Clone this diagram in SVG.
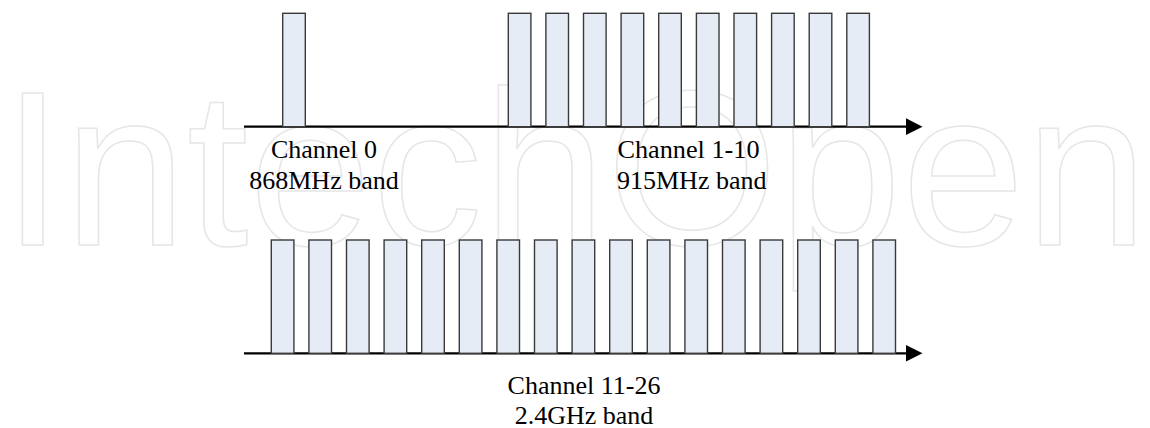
<svg xmlns="http://www.w3.org/2000/svg" width="1150" height="428" viewBox="0 0 1150 428">
  <style>
    .wm { font-family: "Liberation Sans", Arial, sans-serif; font-size: 221px; fill: none; stroke: #e6e6e6; stroke-width: 1.5; }
    .bar { fill: #e6ecf6; stroke: #3a3a3a; stroke-width: 1.4; }
    .axis { fill: none; stroke: #000; stroke-width: 2.2; }
    .head { fill: #000; stroke: none; }
    .lbl { font-family: "Liberation Serif", "Times New Roman", serif; font-size: 26px; fill: #000; }
  </style>
  <defs>
    <rect id="b1" class="bar" x="0" y="13.3" width="22.6" height="113.4"/>
    <rect id="b2" class="bar" x="0" y="240" width="22.6" height="113.3"/>
  </defs>
  <rect width="1150" height="428" fill="#fff"/>

  <g id="watermark">
    <text class="wm" x="2" y="245" textLength="1146" lengthAdjust="spacing">IntechOpen</text>
  </g>

  <g id="connectors">
    <line class="axis" x1="244" y1="126.7" x2="910" y2="126.7"/>
    <polygon class="head" points="906,118.3 922.5,126.7 906,135"/>
    <line class="axis" x1="244" y1="353.3" x2="910" y2="353.3"/>
    <polygon class="head" points="906,345 922.5,353.3 906,361.6"/>
  </g>

  <g id="band-868">
    <use href="#b1" x="282.7"/>
    <text class="lbl" x="324" y="158" text-anchor="middle">Channel 0</text>
    <text class="lbl" x="324" y="189" text-anchor="middle">868MHz band</text>
  </g>

  <g id="band-915">
    <use href="#b1" x="508.3"/>
    <use href="#b1" x="545.9"/>
    <use href="#b1" x="583.5"/>
    <use href="#b1" x="621.1"/>
    <use href="#b1" x="658.7"/>
    <use href="#b1" x="696.4"/>
    <use href="#b1" x="734.0"/>
    <use href="#b1" x="771.6"/>
    <use href="#b1" x="809.2"/>
    <use href="#b1" x="846.8"/>
    <text class="lbl" x="617.5" y="158" textLength="142" lengthAdjust="spacingAndGlyphs">Channel 1-10</text>
    <text class="lbl" x="617" y="189">915MHz band</text>
  </g>

  <g id="band-2400">
    <use href="#b2" x="271.3"/>
    <use href="#b2" x="308.9"/>
    <use href="#b2" x="346.5"/>
    <use href="#b2" x="384.1"/>
    <use href="#b2" x="421.7"/>
    <use href="#b2" x="459.3"/>
    <use href="#b2" x="496.9"/>
    <use href="#b2" x="534.5"/>
    <use href="#b2" x="572.1"/>
    <use href="#b2" x="609.7"/>
    <use href="#b2" x="647.3"/>
    <use href="#b2" x="684.9"/>
    <use href="#b2" x="722.5"/>
    <use href="#b2" x="760.1"/>
    <use href="#b2" x="797.7"/>
    <use href="#b2" x="835.3"/>
    <use href="#b2" x="872.9"/>
    <text class="lbl" x="584" y="393.5" text-anchor="middle">Channel 11-26</text>
    <text class="lbl" x="584" y="423.5" text-anchor="middle">2.4GHz band</text>
  </g>
</svg>
